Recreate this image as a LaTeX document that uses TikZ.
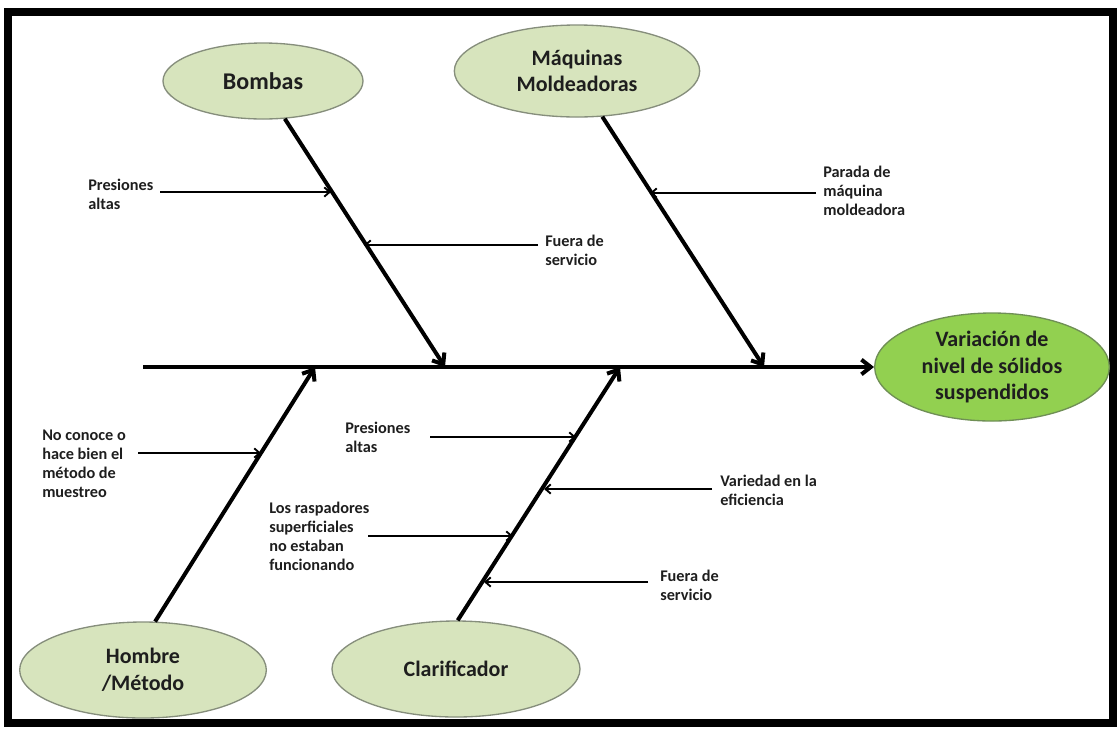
\documentclass[tikz,border=0pt]{standalone}
\usepackage{fontspec}
\setmainfont{Carlito}
\usetikzlibrary{shapes.geometric,arrows.meta}
\definecolor{palegreen}{HTML}{D7E4BD}
\definecolor{maingreen}{HTML}{92D050}
\definecolor{edgegray}{HTML}{868E7C}
\definecolor{edgegreen}{HTML}{6F8F55}
\definecolor{txt}{HTML}{1E1E1E}
\begin{document}
\begin{tikzpicture}[x=0.75pt,y=-0.75pt,
  cause/.style={ellipse,draw=edgegray,line width=1pt,fill=palegreen,inner sep=0pt,align=center,
    font=\fontsize{16.5}{19.9}\selectfont\bfseries,text=txt},
  effect/.style={cause,fill=maingreen,draw=edgegreen},
  lbl/.style={align=left,inner sep=0pt,anchor=west,font=\fontsize{12.2}{14.25}\selectfont\bfseries,text=txt},
  bone/.style={line width=3pt,-{Straight Barb[length=7pt,width=11pt]}},
  sub/.style={line width=1.4pt,-{Straight Barb[length=4pt,width=7pt]}}]
\useasboundingbox (0,0) rectangle (1119,733);
\draw[line width=6pt] (8,12) rectangle (1113,723);

% categories and effect
\node[cause,minimum width=150pt,minimum height=57pt,font=\fontsize{18}{20}\selectfont\bfseries] (bombas) at (263,81) {Bombas};
\node[cause,minimum width=184pt,minimum height=69pt] (maq) at (577,71) {Máquinas\\Moldeadoras};
\node[effect,minimum width=176pt,minimum height=81pt] (var) at (992,367) {Variación de\\nivel de sólidos\\suspendidos};
\node[cause,minimum width=185pt,minimum height=72pt] (hom) at (143,670) {Hombre\\/Método};
\node[cause,minimum width=186pt,minimum height=72pt] (clar) at (456,669) {Clarificador};

% spine and bones
\coordinate (s0) at (143,367);
\coordinate (sB) at (445,367);
\coordinate (sM) at (764,367);
\coordinate (sH) at (315,367);
\coordinate (sC) at (620,367);
\draw[bone] (s0) -- (var.west);
\draw[bone] (bombas.-60) -- (sB);
\draw[bone] (maq.-61) -- (sM);
\draw[bone] (hom.76) -- (sH);
\draw[bone] (clar.88) -- (sC);

% sub-causes
\node[lbl] (l1) at (88,194) {Presiones\\altas};
\coordinate (a1) at (160,192); \coordinate (b1) at (331,192);
\draw[sub] (a1) -- (b1);

\node[lbl] (l2) at (545,250) {Fuera de\\servicio};
\coordinate (a2) at (538,245); \coordinate (b2) at (364,245);
\draw[sub] (a2) -- (b2);

\node[lbl] (l3) at (823,191) {Parada de\\máquina\\moldeadora};
\coordinate (a3) at (816,193); \coordinate (b3) at (650,193);
\draw[sub] (a3) -- (b3);

\node[lbl] (l4) at (42,464) {No conoce o\\hace bien el\\método de\\muestreo};
\coordinate (a4) at (138,453); \coordinate (b4) at (261,453);
\draw[sub] (a4) -- (b4);

\node[lbl] (l5) at (345,437) {Presiones\\altas};
\coordinate (a5) at (430,437); \coordinate (b5) at (576,437);
\draw[sub] (a5) -- (b5);

\node[lbl] (l6) at (720,490) {Variedad en la\\eficiencia};
\coordinate (a6) at (712,489); \coordinate (b6) at (544,489);
\draw[sub] (a6) -- (b6);

\node[lbl] (l7) at (269,536) {Los raspadores\\superficiales\\no estaban\\funcionando};
\coordinate (a7) at (368,536); \coordinate (b7) at (513,536);
\draw[sub] (a7) -- (b7);

\node[lbl] (l8) at (660,585) {Fuera de\\servicio};
\coordinate (a8) at (648,582); \coordinate (b8) at (484,582);
\draw[sub] (a8) -- (b8);
\end{tikzpicture}
\end{document}
